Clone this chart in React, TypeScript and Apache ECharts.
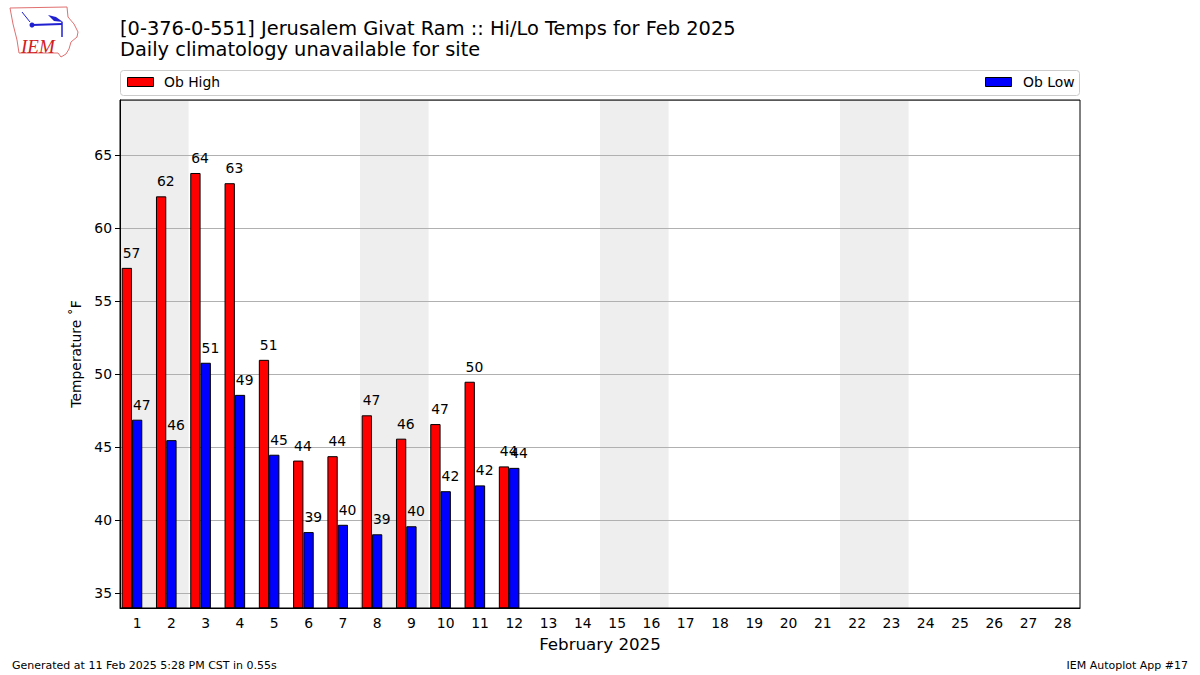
import React, { useEffect, useRef } from "react";
import * as echarts from "echarts";

const days = ["1","2","3","4","5","6","7","8","9","10","11","12","13","14","15","16","17","18","19","20","21","22","23","24","25","26","27","28"];
const obHigh = [57.3, 62.2, 63.8, 63.1, 51.0, 44.1, 44.4, 47.2, 45.6, 46.6, 49.5, 43.7];
const obLow = [46.9, 45.5, 50.8, 48.6, 44.5, 39.2, 39.7, 39.05, 39.6, 42.0, 42.4, 43.6];
const weekendStartDays = [1, 8, 15, 22];
const yMin = 34.0;
const yMax = 68.8;

const titleLine1 = "[0-376-0-551] Jerusalem Givat Ram :: Hi/Lo Temps for Feb 2025";
const titleLine2 = "Daily climatology unavailable for site";
const footerLeft = "Generated at 11 Feb 2025 5:28 PM CST in 0.55s";
const footerRight = "IEM Autoplot App #17";

const FONT = "DejaVu Sans";

export default function App() {
  const ref = useRef<HTMLDivElement>(null);
  useEffect(() => {
    if (!ref.current) return;
    const chart = echarts.init(ref.current, null, { renderer: "svg" });
    const barLabel = {
      show: true,
      position: [1, -8],
      align: "left",
      verticalAlign: "bottom",
      fontFamily: FONT,
      fontSize: 13.9,
      color: "#000",
      formatter: (p: any) => String(Math.round(p.value)),
    };
    const option: any = {
      animation: false,
      backgroundColor: "#fff",
      textStyle: { fontFamily: FONT },
      grid: {
        left: 120,
        right: 120,
        top: 100,
        bottom: 67,
        show: true,
        borderColor: "#000",
        borderWidth: 1,
        backgroundColor: "transparent",
        z: 5,
      },
      xAxis: {
        type: "category",
        data: days,
        z: 2,
        name: "February 2025",
        nameLocation: "middle",
        nameGap: 27,
        nameTextStyle: { fontFamily: FONT, fontSize: 16.7, color: "#000" },
        axisLine: { lineStyle: { color: "#000", width: 1 } },
        axisTick: { alignWithLabel: true, length: 5, lineStyle: { color: "#000" } },
        axisLabel: { fontFamily: FONT, fontSize: 13.9, color: "#000", margin: 8, interval: 0 },
        splitLine: { show: false },
      },
      yAxis: {
        type: "value",
        min: yMin,
        max: yMax,
        splitNumber: 7,
        z: 2,
        name: "Temperature ˚F",
        nameLocation: "middle",
        nameGap: 37,
        nameTextStyle: { fontFamily: FONT, fontSize: 13.9, color: "#000" },
        axisLine: { show: true, lineStyle: { color: "#000", width: 1 } },
        axisTick: { show: true, length: 5, lineStyle: { color: "#000" } },
        axisLabel: {
          fontFamily: FONT,
          fontSize: 13.9,
          color: "#000",
          margin: 8,
          showMinLabel: false,
          showMaxLabel: false,
          formatter: (v: number) => (Math.abs(v % 5) < 1e-6 ? String(v) : ""),
        },
        splitLine: { show: true, lineStyle: { color: "#b0b0b0", width: 1 } },
      },
      series: [
        {
          type: "custom",
          z: 1,
          silent: true,
          data: weekendStartDays.map((d) => [d - 1, 50]),
          encode: { x: 0, y: 1 },
          renderItem: (params: any, api: any) => {
            const idx = api.value(0);
            const bw = api.size([1, 0])[0];
            const cx = api.coord([idx, 50])[0];
            const cs = params.coordSys;
            return {
              type: "rect",
              shape: { x: cx - bw / 2, y: cs.y, width: bw * 2, height: cs.height },
              style: { fill: "#eeeeee" },
            };
          },
        },
        {
          name: "Ob High",
          type: "bar",
          z: 3,
          data: obHigh,
          barWidth: 10.3,
          barGap: "0%",
          itemStyle: { color: "#ff0000", borderColor: "#000", borderWidth: 1 },
          label: barLabel,
        },
        {
          name: "Ob Low",
          type: "bar",
          z: 3,
          data: obLow,
          barWidth: 10.3,
          barGap: "0%",
          itemStyle: { color: "#0000ff", borderColor: "#000", borderWidth: 1 },
          label: barLabel,
        },
        {
          name: "spacer",
          type: "bar",
          z: 3,
          data: days.map(() => null),
          barWidth: 10.3,
          barGap: "0%",
          silent: true,
          itemStyle: { color: "transparent" },
        },
      ],
      graphic: [
        // title
        { type: "text", left: 120, top: 18.5, style: { text: titleLine1, fontFamily: FONT, fontSize: 19.4, fill: "#000" } },
        { type: "text", left: 120, top: 40, style: { text: titleLine2, fontFamily: FONT, fontSize: 19.4, fill: "#000" } },
        // legend box
        { type: "rect", shape: { x: 120.5, y: 70.5, width: 959, height: 25, r: 3 }, style: { fill: "#fff", stroke: "#cccccc", lineWidth: 1 } },
        { type: "rect", shape: { x: 127.5, y: 77.5, width: 26, height: 9 }, style: { fill: "#ff0000", stroke: "#000", lineWidth: 1 } },
        { type: "text", x: 164, y: 82, style: { text: "Ob High", fontFamily: FONT, fontSize: 13.9, fill: "#000", verticalAlign: "middle" } },
        { type: "rect", shape: { x: 985.5, y: 77.5, width: 26, height: 9 }, style: { fill: "#0000ff", stroke: "#000", lineWidth: 1 } },
        { type: "text", x: 1023, y: 82, style: { text: "Ob Low", fontFamily: FONT, fontSize: 13.9, fill: "#000", verticalAlign: "middle" } },
        // footer
        { type: "text", left: 12, top: 660, style: { text: footerLeft, fontFamily: FONT, fontSize: 11, fill: "#000" } },
        { type: "text", right: 12, top: 660, style: { text: footerRight, fontFamily: FONT, fontSize: 11, fill: "#000" } },
        // logo
        {
          type: "polyline",
          shape: {
            points: [[10, 8], [67, 7], [68, 17], [74, 24], [78, 32], [77, 37], [71, 42], [69, 49], [66, 54], [61, 57], [58, 53], [19, 53], [17, 40], [13, 24], [10, 8]],
          },
          style: { stroke: "#e07070", fill: "none", lineWidth: 1 },
        },
        { type: "line", shape: { x1: 32, y1: 25, x2: 62, y2: 24 }, style: { stroke: "#2020d0", lineWidth: 2 } },
        { type: "circle", shape: { cx: 32, cy: 25, r: 2.5 }, style: { fill: "#2020d0" } },
        { type: "polygon", shape: { points: [[48, 15], [56, 17], [63, 22], [54, 21]] }, style: { fill: "#2020d0" } },
        { type: "line", shape: { x1: 62, y1: 22, x2: 62, y2: 37 }, style: { stroke: "#2020d0", lineWidth: 1.5 } },
        { type: "line", shape: { x1: 22, y1: 12, x2: 30, y2: 22 }, style: { stroke: "#2020d0", lineWidth: 1 } },
        { type: "text", x: 21, y: 37, style: { text: "IEM", fontFamily: "Liberation Serif", fontStyle: "italic", fontSize: 19, fill: "#d02020" } },
      ],
    };
    chart.setOption(option);
    return () => chart.dispose();
  }, []);
  return <div ref={ref} style={{ position: "fixed", left: 0, top: 0, width: 1200, height: 675 }} />;
}
